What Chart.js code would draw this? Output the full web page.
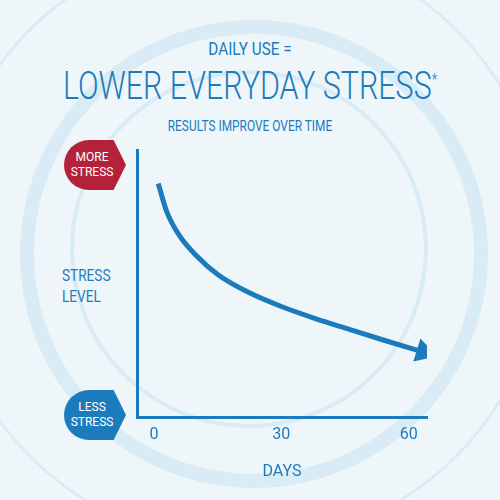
<!DOCTYPE html><html><head><meta charset="utf-8">
<script src="https://cdn.jsdelivr.net/npm/chart.js@4"></script>
<style>
body{margin:0;width:500px;height:500px;overflow:hidden;background:#eef6fa;font-family:Roboto,sans-serif;color:#1b7bbd}
.c{position:absolute;border-radius:50%;border-style:solid;border-color:#d9ebf5}
.t{position:absolute;width:500px;text-align:center;white-space:nowrap}
#wrap{position:absolute;left:0;top:0;width:500px;height:500px}
.badge{position:absolute;width:62px;height:50px;color:#fff;font-size:12px;line-height:15px;display:flex;align-items:center;justify-content:center;text-align:center;padding-right:6px;box-sizing:border-box}
</style></head><body>
<div class="c" style="left:20px;top:20px;width:440px;height:440px;border-width:14px"></div>
<div class="c" style="left:70px;top:70px;width:350px;height:350px;border-width:4px"></div>
<div class="c" style="left:-60px;top:-60px;width:600px;height:600px;border-width:3px"></div>
<div class="t" style="top:38px;font-size:18px;transform:scaleX(0.85)">DAILY USE =</div>
<div class="t" style="top:64px;font-size:38px;font-weight:300;transform:scaleX(0.8)">LOWER EVERYDAY STRESS<sup style="font-size:16px">*</sup></div>
<div class="t" style="top:118px;font-size:14px;transform:scaleX(0.85)">RESULTS IMPROVE OVER TIME</div>
<div class="badge" style="left:64px;top:140px;background:#b3213a;clip-path:polygon(0 0,80% 0,100% 50%,80% 100%,0 100%);border-radius:25px 0 0 25px">MORE<br>STRESS</div>
<div class="badge" style="left:64px;top:390px;background:#1b7bbd;clip-path:polygon(0 0,80% 0,100% 50%,80% 100%,0 100%);border-radius:25px 0 0 25px">LESS<br>STRESS</div>
<div style="position:absolute;left:62px;top:265px;font-size:16px;line-height:21px;transform:scaleX(0.85);transform-origin:left">STRESS<br>LEVEL</div>
<div id="wrap"><canvas id="ch" width="500" height="500"></canvas></div>
<script>
const days=[1,3,6,10,15,22,30,38,46,54,63.5];
const stress=[87.5,77,68,60.5,53.5,47,41.5,37,33,29,24.5];
const xTicks=[0,30,60];
const blue='#1b7bbd';
const rot=days.map((d,i)=>i===days.length-1?107:0);
const rad=days.map((d,i)=>i===days.length-1?9:0);
new Chart(document.getElementById('ch'),{type:'line',
data:{datasets:[{data:days.map((d,i)=>({x:d,y:stress[i]})),borderColor:blue,backgroundColor:blue,borderWidth:5,cubicInterpolationMode:'monotone',pointRadius:rad,pointRotation:rot,pointStyle:'triangle'}]},
options:{responsive:false,animation:false,plugins:{legend:{display:false},tooltip:{enabled:false}},
layout:{padding:{left:137,right:73,top:150,bottom:14}},
scales:{x:{type:'linear',min:-4,max:64.3,afterBuildTicks:a=>{a.ticks=xTicks.map(v=>({value:v}))},grid:{display:false,drawTicks:false},border:{color:blue,width:3},
ticks:{color:blue,font:{family:'Roboto',size:16},padding:8},title:{display:true,text:'DAYS',color:blue,font:{family:'Roboto',size:16},padding:{top:10}}},
y:{min:0,max:100,grid:{display:false,drawTicks:false},border:{color:blue,width:3},ticks:{display:false}}}}});
</script></body></html>
